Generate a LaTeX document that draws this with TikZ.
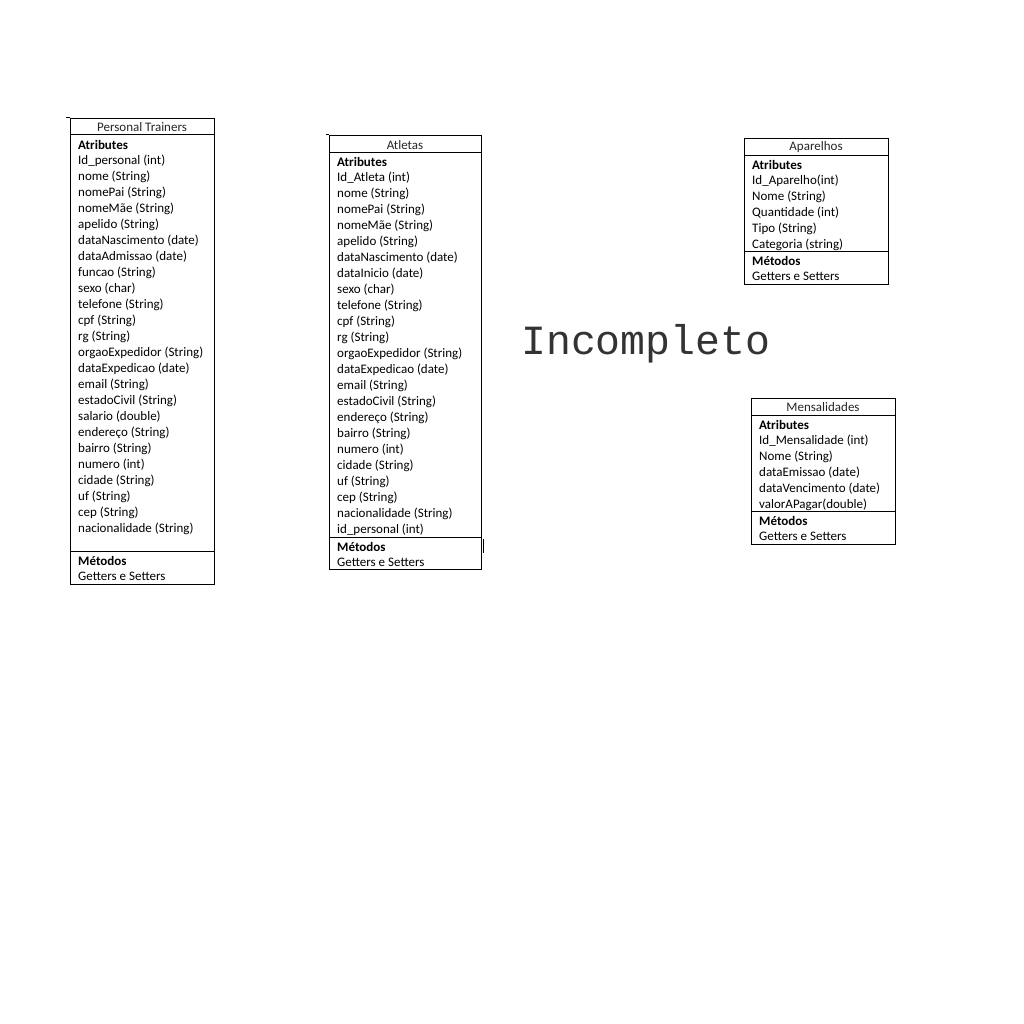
\documentclass[tikz,border=0pt]{standalone}
\usepackage{fontspec}
\setmainfont{Carlito}
\newfontfamily\monofnt{Liberation Mono}
\begin{document}
\begin{tikzpicture}[x=1pt,y=-1pt,
  boxline/.style={draw=black,line width=0.9pt},
  sepline/.style={draw=black,line width=0.9pt},
  title/.style={inner sep=0pt,yshift=-1.5pt,font=\fontsize{13}{15}\selectfont,text=black!85},
  attr/.style={anchor=west,inner sep=0pt,yshift=-1.5pt,font=\fontsize{13}{15}\selectfont}]
\fill[white] (0,0) rectangle (1024,1024);
\useasboundingbox (0,0) rectangle (1024,1024);

% Personal Trainers
\draw[boxline] (70,118) rectangle (214,584);
\draw[sepline] (70,134) -- (214,134);
\draw[sepline] (70,551) -- (214,551);
\draw[line width=0.6pt] (66,117) -- (70,117);
\node[title] (ptT) at (142,126) {Personal Trainers};
\node[attr] (ptA) at (78,143) {\textbf{Atributes}};
\foreach \t [count=\i] in {Id\_personal (int),nome (String),nomePai (String),nomeMãe (String),apelido (String),dataNascimento (date),dataAdmissao (date),funcao (String),sexo (char),telefone (String),cpf (String),rg (String),orgaoExpedidor (String),dataExpedicao (date),email (String),estadoCivil (String),salario (double),endereço (String),bairro (String),numero (int),cidade (String),uf (String),cep (String),nacionalidade (String)}
  \node[attr] (pt\i) at (78,{143+16*\i}) {\t};
\node[attr] (ptM) at (78,559) {\textbf{Métodos}};
\node[attr] (ptG) at (78,575) {Getters e Setters};

% Atletas
\draw[boxline] (329,135) rectangle (481,569);
\draw[sepline] (329,152) -- (481,152);
\draw[sepline] (329,537) -- (481,537);
\draw[line width=0.6pt] (326,134) -- (329,134);
\draw[line width=0.6pt] (483,539) -- (483,553);
\node[title] (atT) at (405,144) {Atletas};
\node[attr] (atA) at (337,160) {\textbf{Atributes}};
\foreach \t [count=\i] in {Id\_Atleta (int),nome (String),nomePai (String),nomeMãe (String),apelido (String),dataNascimento (date),dataInicio (date),sexo (char),telefone (String),cpf (String),rg (String),orgaoExpedidor (String),dataExpedicao (date),email (String),estadoCivil (String),endereço (String),bairro (String),numero (int),cidade (String),uf (String),cep (String),nacionalidade (String),id\_personal (int)}
  \node[attr] (at\i) at (337,{160+16*\i}) {\t};
\node[attr] (atM) at (337,545) {\textbf{Métodos}};
\node[attr] (atG) at (337,561) {Getters e Setters};

% Aparelhos
\draw[boxline] (744,138) rectangle (888,284);
\draw[sepline] (744,155) -- (888,155);
\draw[sepline] (744,251) -- (888,251);
\node[title] (apT) at (816,146) {Aparelhos};
\node[attr] (apA) at (752,163) {\textbf{Atributes}};
\foreach \t [count=\i] in {Id\_Aparelho(int),Nome (String),Quantidade (int),Tipo (String),Categoria (string)}
  \node[attr] (ap\i) at (752,{163+16*\i}) {\t};
\node[attr] (apM) at (752,259) {\textbf{Métodos}};
\node[attr] (apG) at (752,275) {Getters e Setters};

% Mensalidades
\draw[boxline] (751,398) rectangle (895,544);
\draw[sepline] (751,415) -- (895,415);
\draw[sepline] (751,511) -- (895,511);
\node[title] (meT) at (823,406) {Mensalidades};
\node[attr] (meA) at (759,423) {\textbf{Atributes}};
\foreach \t [count=\i] in {Id\_Mensalidade (int),Nome (String),dataEmissao (date),dataVencimento (date),valorAPagar(double)}
  \node[attr] (me\i) at (759,{423+16*\i}) {\t};
\node[attr] (meM) at (759,519) {\textbf{Métodos}};
\node[attr] (meG) at (759,535) {Getters e Setters};

% Incompleto
\node[anchor=west,inner sep=0pt,font=\monofnt\fontsize{41.5}{45}\selectfont,text=black!80] (inc) at (521,344) {Incompleto};
\end{tikzpicture}
\end{document}
